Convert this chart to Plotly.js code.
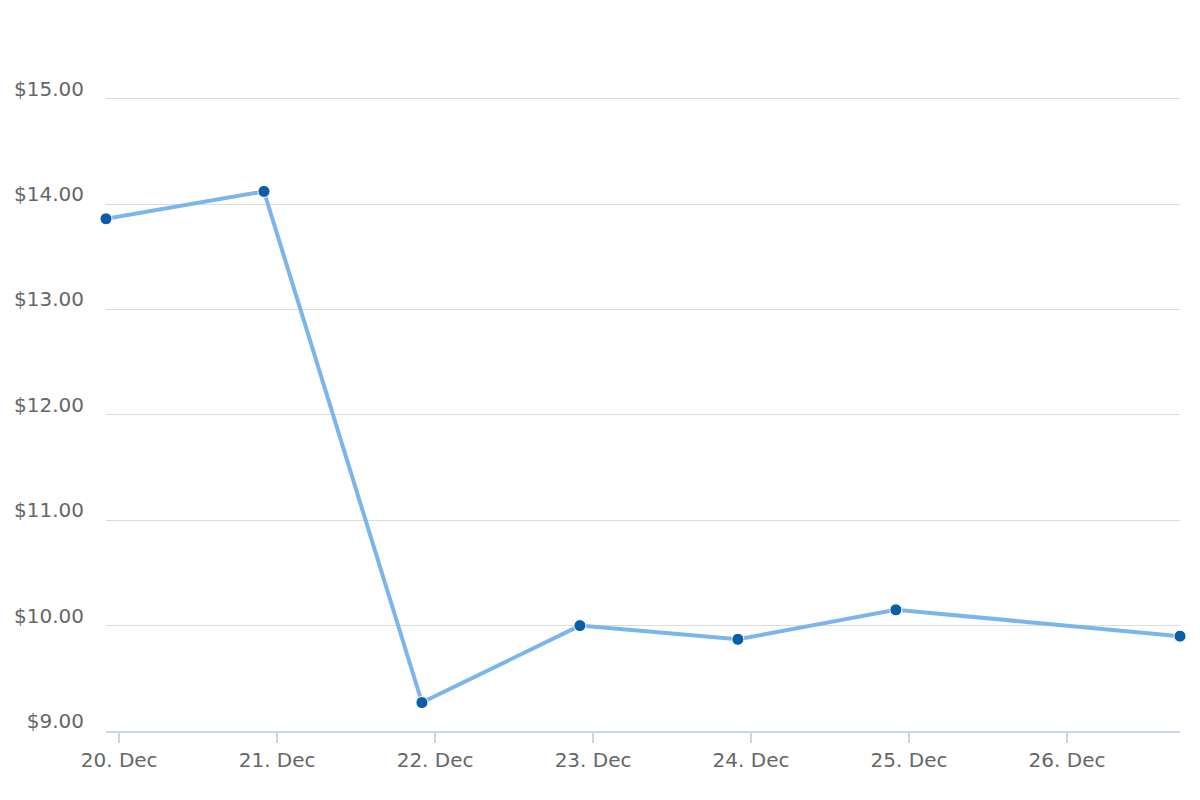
<!DOCTYPE html>
<html>
<head>
<meta charset="utf-8">
<script src="https://cdn.plot.ly/plotly-3.0.1.min.js"></script>
<style>
  html, body { margin: 0; padding: 0; background: #fff; }
  #chart { width: 1200px; height: 800px; }
</style>
</head>
<body>
<div id="chart"></div>
<script>
// price per day, last point is the latest reading
var dates = ['2023-12-19 22:00', '2023-12-20 22:00', '2023-12-21 22:00', '2023-12-22 22:00',
             '2023-12-23 22:00', '2023-12-24 22:00', '2023-12-26 17:10'];
var prices = [13.86, 14.12, 9.27, 10.00, 9.87, 10.15, 9.90];
var yTicks = [9, 10, 11, 12, 13, 14, 15];
var yLabels = yTicks.map(function (v) { return '$' + v.toFixed(2); });

var trace1 = {
  x: dates,
  y: prices,
  type: 'scatter',
  mode: 'lines+markers',
  line: { color: '#7cb5ec', width: 4 },
  marker: { color: '#0b5ea6', size: 12, line: { color: '#ffffff', width: 1 } },
  cliponaxis: false,
  hoverinfo: 'x+y'
};

var layout = {
  width: 1200,
  height: 800,
  margin: { l: 106, r: 20, t: 46, b: 69 },
  paper_bgcolor: '#ffffff',
  plot_bgcolor: '#ffffff',
  showlegend: false,
  font: { family: 'DejaVu Sans, sans-serif', size: 20, color: '#666666' },
  xaxis: {
    type: 'date',
    range: [dates[0], dates[dates.length - 1]],
    tick0: '2023-12-20',
    dtick: 86400000,
    tickformat: '%d. %b',
    ticks: 'outside',
    ticklen: 10,
    tickwidth: 2,
    tickcolor: '#ccd6eb',
    showline: true,
    linecolor: '#ccd6eb',
    linewidth: 2,
    showgrid: false,
    zeroline: false,
    tickfont: { size: 20, color: '#666666' }
  },
  yaxis: {
    range: [9, 15.5],
    tickmode: 'array',
    tickvals: yTicks,
    ticktext: yLabels,
    ticklabelposition: 'outside top',
    ticklabelstandoff: 21,
    ticklabelshift: 4,
    showgrid: true,
    gridcolor: '#dcdcdc',
    gridwidth: 1,
    zeroline: false,
    showline: false,
    ticks: '',
    tickfont: { size: 20, color: '#666666' }
  }
};

Plotly.newPlot('chart', [trace1], layout, { displayModeBar: false, staticPlot: true });
</script>
</body>
</html>
